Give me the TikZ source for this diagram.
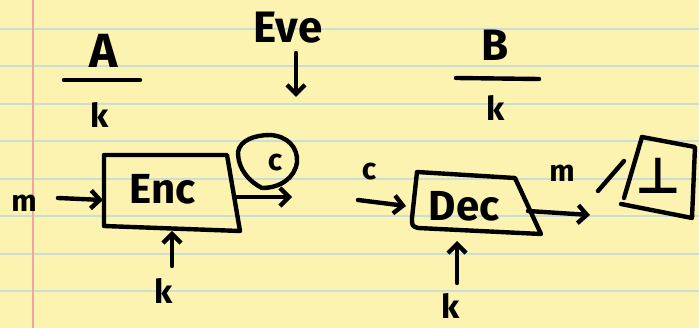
\documentclass[tikz,border=0pt]{standalone}
\usepackage{fontspec}
\setmainfont{Fira Sans}
\newfontfamily\symbolfont{DejaVu Sans}
\usetikzlibrary{arrows.meta}
\definecolor{paper}{HTML}{FDF3B0}
\definecolor{ruleblue}{HTML}{C8DED6}
\definecolor{marginred}{HTML}{F4A3A3}
\begin{document}
\begin{tikzpicture}[x=1pt,y=-1pt,
  ink/.style={line width=4.4pt, line cap=round, line join=round, black},
  arr/.style={ink, -{Straight Barb[length=9pt,width=18pt]}},
  lbl/.style={inner sep=0pt, text=black},
  big/.style={lbl, font=\fontsize{42}{42}\selectfont\bfseries},
  mid/.style={lbl, font=\fontsize{33}{33}\selectfont\bfseries},
  small/.style={lbl, font=\fontsize{30}{30}\selectfont\bfseries}]
% paper
\fill[paper] (0,0) rectangle (699,328);
\useasboundingbox (0,0) rectangle (699,328);
\foreach \yy in {29,66.5,104,141.5,179,216.5,254,291.5}
  \draw[ruleblue, line width=2pt] (0,\yy) -- (699,\yy);
\draw[marginred, line width=2.5pt] (33,0) -- (33,328);

% party A
\node[lbl, font=\fontsize{48}{48}\selectfont\bfseries] (A) at (104,51) {A};
\draw[ink] (64,80) -- (140,80);
\node[mid] (kA) at (100,115) {k};

% Eve
\node[lbl, font=\fontsize{44}{44}\selectfont\bfseries] (Eve) at (288,28) {Eve};
\coordinate (eveTail) at (296,53);
\coordinate (eveTip) at (296,97);
\draw[arr] (eveTail) -- (eveTip);

% party B
\node[lbl, font=\fontsize{44}{44}\selectfont\bfseries] (B) at (495,45) {B};
\draw[ink] (456,78) -- (539,79);
\node[mid] (kB) at (496,108) {k};

% Enc box
\coordinate (e1) at (104,155);
\coordinate (e2) at (227,155);
\coordinate (e3) at (240,231);
\coordinate (e4) at (104,226);
\draw[ink] (e1) -- (e2) -- (e3) -- (e4) -- cycle;
\node[big] (Enc) at (163,189) {Enc};
\node[small] (mIn) at (24,203) {m};
\coordinate (mTail) at (58,198);
\coordinate (encL) at (103,200);
\draw[arr] (mTail) -- (encL);
\node[mid] (kEnc) at (164,291) {k};
\coordinate (kEncTail) at (172,266);
\coordinate (encB) at (172,231);
\draw[arr] (kEncTail) -- (encB);
\coordinate (encR) at (234,197);
\coordinate (encOut) at (292,197);
\draw[arr] (encR) -- (encOut);

% ciphertext c (circled)
\draw[ink] (262,188) .. controls (250,182) and (238,170) .. (238,152)
  .. controls (240,140) and (255,135) .. (270,135)
  .. controls (288,136) and (298,148) .. (297,162)
  .. controls (295,178) and (280,188) .. (262,188);
\node[small] (cCirc) at (275,163) {c};

% Dec box
\coordinate (d1) at (417,172);
\coordinate (d2) at (515,178);
\coordinate (d3) at (541,234);
\coordinate (d4) at (418,228);
\draw[ink] (d1) -- (d2) -- (d3) -- (d4) .. controls (412,226) .. (412,218) -- cycle;
\node[big] (Dec) at (464,206) {Dec};
\node[small] (cIn) at (369,172) {c};
\coordinate (cTail) at (358,200);
\coordinate (decL) at (406,206);
\draw[arr] (cTail) -- (decL);
\node[mid] (kDec) at (451,306) {k};
\coordinate (kDecTail) at (457,283);
\coordinate (decB) at (457,241);
\draw[arr] (kDecTail) -- (decB);
\coordinate (decR) at (528,211);
\coordinate (decOut) at (590,215);
\draw[arr] (decR) -- (decOut);
\node[small] (mOut) at (562,173) {m};

% slash and bottom box
\coordinate (s1) at (598,191);
\coordinate (s2) at (624,161);
\draw[ink] (s1) -- (s2);
\coordinate (b1) at (642,137);
\coordinate (b2) at (695,147);
\coordinate (b3) at (692,218);
\coordinate (b4) at (621,204);
\draw[ink] (b1) -- (b2) -- (b3) -- (b4);
\draw[ink] (b1) -- (624,198);
\node[lbl, font=\fontsize{50}{50}\selectfont\symbolfont\bfseries] (bot) at (658,176) {⊥};
\end{tikzpicture}
\end{document}
